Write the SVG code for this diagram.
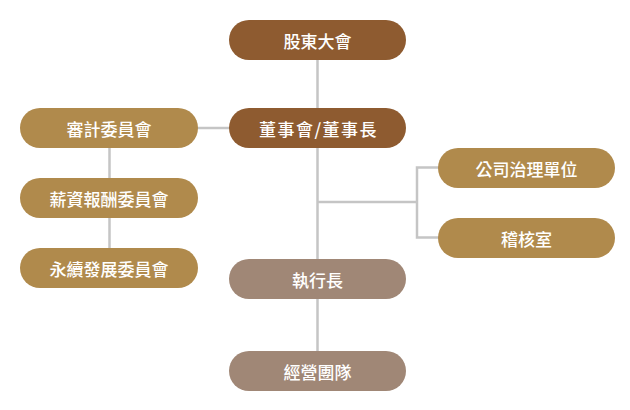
<svg xmlns="http://www.w3.org/2000/svg" width="630" height="410" viewBox="0 0 630 410">
<style>
.box{stroke:none}
.dark{fill:#8E5B30}
.gold{fill:#B08A4C}
.mauve{fill:#A08776}
.lbl{fill:#FFFFFF;font-family:"Noto Sans CJK TC","Noto Sans CJK SC",sans-serif;font-size:17px;font-weight:500;text-anchor:middle;dominant-baseline:central}
.ln{stroke:#C5C5C5;stroke-width:2.5;fill:none}
</style>
<rect width="630" height="410" fill="#FFFFFF"/>
<g id="connectors">
<line class="ln" x1="317.5" y1="50" x2="317.5" y2="360"/>
<line class="ln" x1="190" y1="128" x2="240" y2="128"/>
<line class="ln" x1="109.5" y1="140" x2="109.5" y2="255"/>
<line class="ln" x1="317.5" y1="202" x2="417" y2="202"/>
<polyline class="ln" points="440,167.5 417,167.5 417,237.5 440,237.5"/>
</g>
<g id="shareholders">
<rect class="box dark" x="229" y="20" width="177" height="40" rx="20"/>
<text class="lbl" x="317.5" y="40">股東大會</text>
</g>
<g id="board">
<rect class="box dark" x="229" y="108" width="177" height="40" rx="20"/>
<text class="lbl" x="318.5" y="128" style="letter-spacing:1.5px">董事會/董事長</text>
</g>
<g id="audit">
<rect class="box gold" x="20" y="108" width="178" height="40" rx="20"/>
<text class="lbl" x="109" y="128">審計委員會</text>
</g>
<g id="compensation">
<rect class="box gold" x="20" y="178" width="178" height="40" rx="20"/>
<text class="lbl" x="109" y="198">薪資報酬委員會</text>
</g>
<g id="sustainability">
<rect class="box gold" x="20" y="248" width="178" height="40" rx="20"/>
<text class="lbl" x="109" y="268">永續發展委員會</text>
</g>
<g id="governance">
<rect class="box gold" x="438" y="148" width="177" height="40" rx="20"/>
<text class="lbl" x="526.5" y="168">公司治理單位</text>
</g>
<g id="internal-audit">
<rect class="box gold" x="438" y="218" width="177" height="40" rx="20"/>
<text class="lbl" x="526.5" y="238">稽核室</text>
</g>
<g id="ceo">
<rect class="box mauve" x="229" y="259" width="177" height="40" rx="20"/>
<text class="lbl" x="317.5" y="279">執行長</text>
</g>
<g id="management">
<rect class="box mauve" x="229" y="351" width="177" height="40" rx="20"/>
<text class="lbl" x="317.5" y="371">經營團隊</text>
</g>
</svg>
